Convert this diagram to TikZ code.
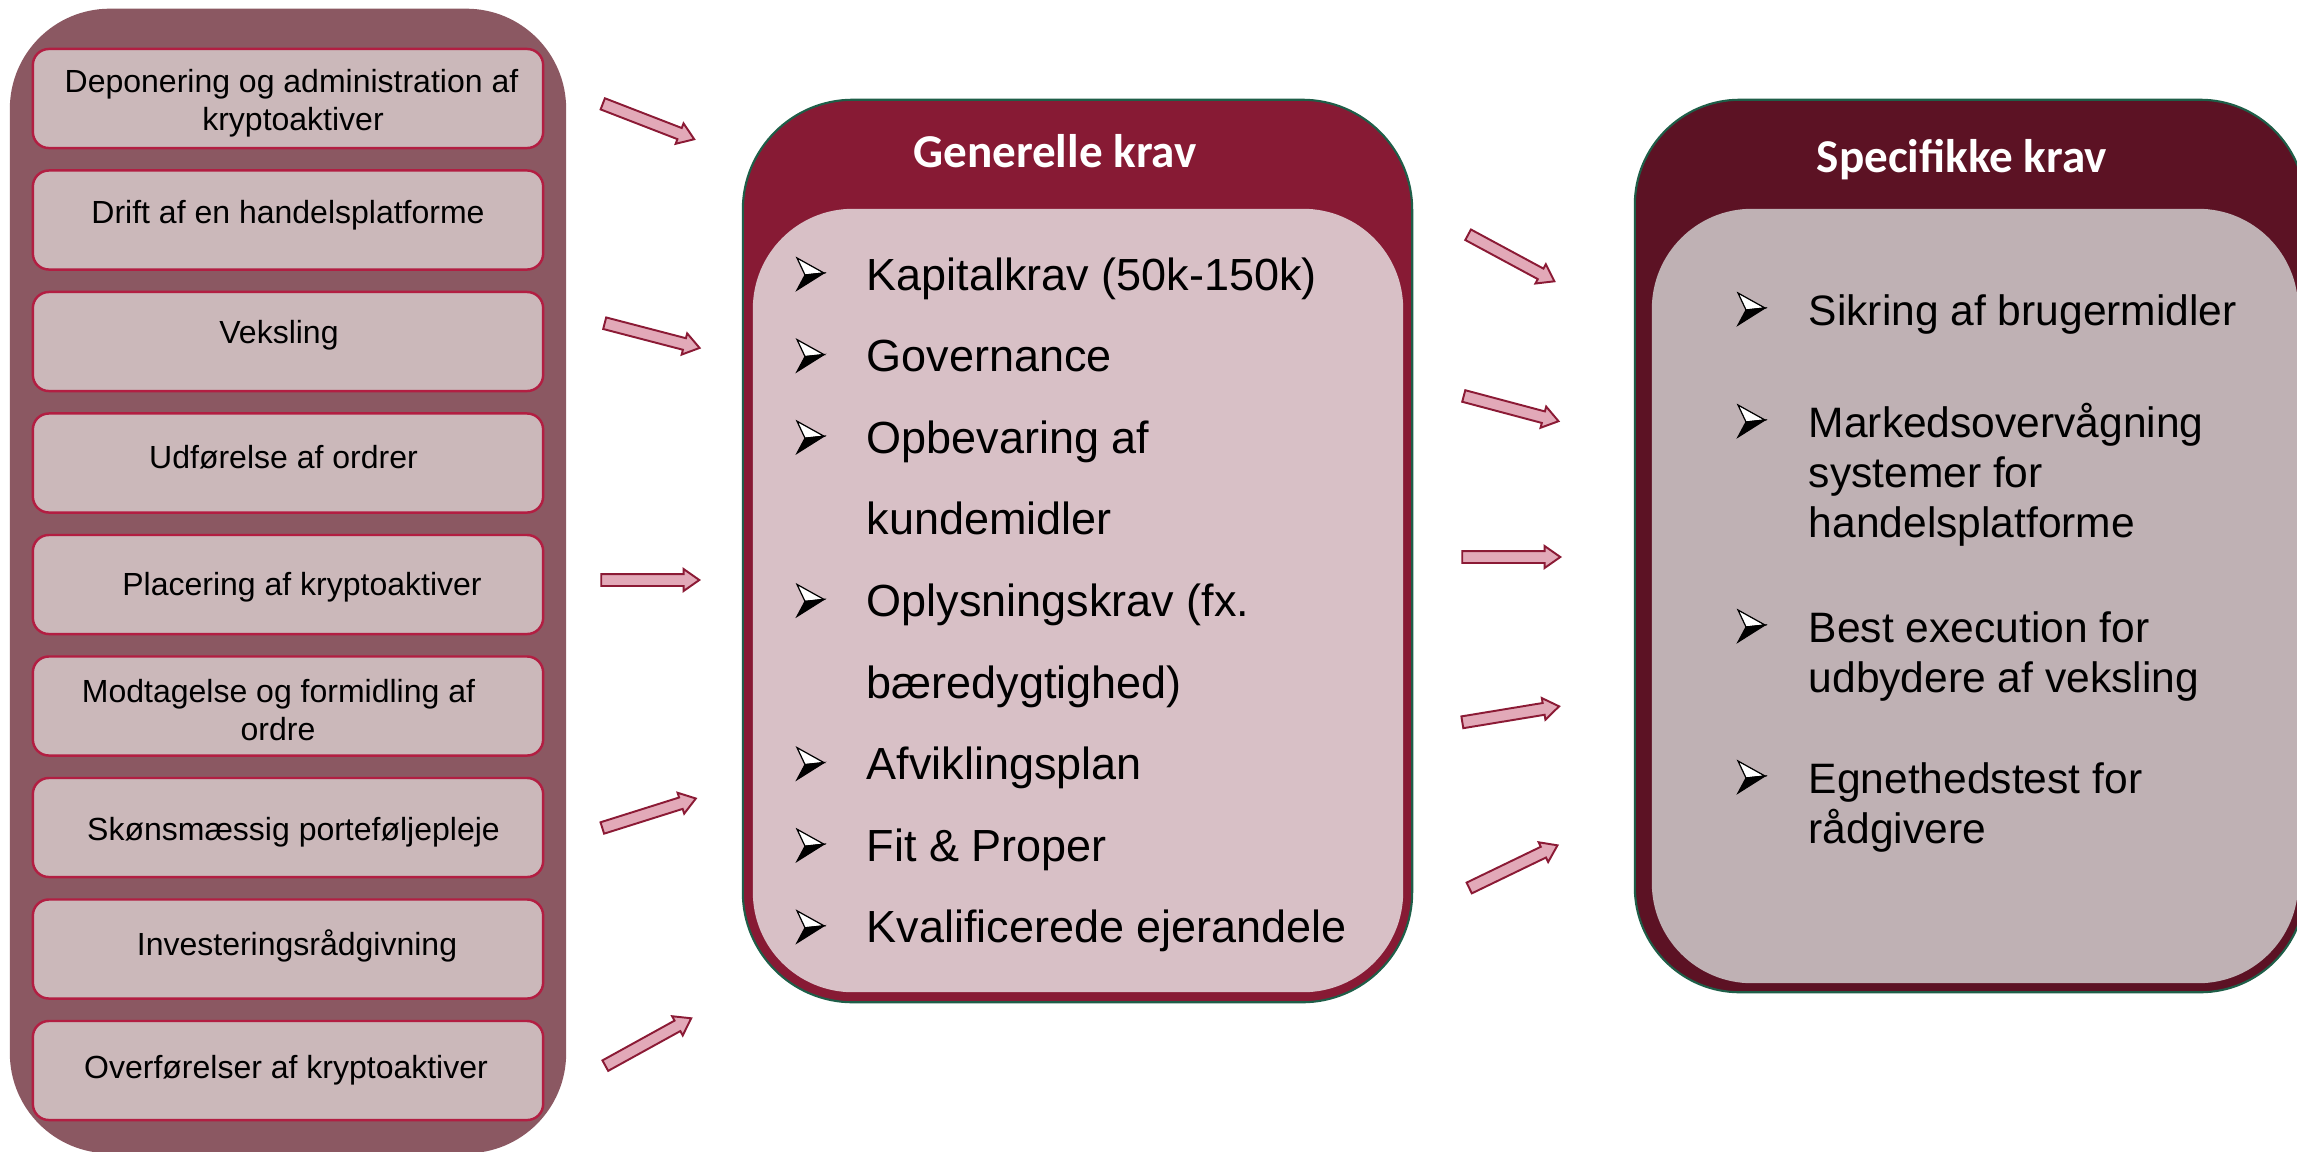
\documentclass[tikz,border=0pt]{standalone}
\usepackage{fontspec}
\setmainfont{Liberation Sans}
\newfontfamily\titlefont{Carlito}
\usetikzlibrary{shapes.arrows}

\definecolor{leftbg}{HTML}{8B5862}
\definecolor{itemfill}{HTML}{CBB8BA}
\definecolor{itemline}{HTML}{B21E42}
\definecolor{genouter}{HTML}{871A34}
\definecolor{geninner}{HTML}{D8C0C6}
\definecolor{specouter}{HTML}{5C1224}
\definecolor{specinner}{HTML}{BFB1B4}
\definecolor{panelline}{HTML}{1E5E48}
\definecolor{arrowfill}{HTML}{E2A9B8}
\definecolor{arrowline}{HTML}{8B1A35}

\tikzset{arrowbullet/.pic={
  \filldraw[fill=white, draw=black, line width=0.35pt] (0,-32) -- (27,-17) -- (8,-15) -- cycle;
  \filldraw[fill=black, draw=black, line width=0.35pt] (8,-15) -- (27,-17) -- (0,0) -- cycle;
}}

\begin{document}
\begin{tikzpicture}[x=0.01cm, y=-0.01cm]
\tikzstyle{panel}=[rectangle, inner sep=0, draw=panelline, line width=0.6pt]
\tikzstyle{item}=[rectangle, inner sep=0, rounded corners=0.16cm, fill=itemfill, draw=itemline, line width=0.7pt, minimum width=5.1cm, minimum height=0.99cm]
\tikzstyle{itemtext}=[inner sep=0, anchor=base, font=\fontsize{9.1}{10.8}\selectfont]
\tikzstyle{title}=[inner sep=0, anchor=base, text=white, font=\titlefont\bfseries\fontsize{13.4}{16}\selectfont]
\tikzstyle{gentext}=[inner sep=0, anchor=base west, font=\fontsize{12.8}{15}\selectfont]
\tikzstyle{spectext}=[inner sep=0, anchor=base west, font=\fontsize{12.1}{14.2}\selectfont]
\tikzstyle{bigarrow}=[single arrow, draw=arrowline, fill=arrowfill, line width=0.55pt, inner xsep=0, inner ysep=0.05cm, text height=0pt, text depth=0pt, minimum height=0.98cm, single arrow head extend=0.05cm, single arrow tip angle=70, sloped]
  \fill[white, use as bounding box] (0,0) rectangle (2297,1151);

  % services
  \node[rectangle, inner sep=0, fill=leftbg, rounded corners=1cm, minimum width=5.56cm, minimum height=11.44cm] (services) at (288,581) {};
  \node[item] (b1) at (288,98.5) {};
  \node[item] (b2) at (288,220) {};
  \node[item] (b3) at (288,341.5) {};
  \node[item] (b4) at (288,463) {};
  \node[item] (b5) at (288,584.5) {};
  \node[item] (b6) at (288,706) {};
  \node[item] (b7) at (288,827.5) {};
  \node[item] (b8) at (288,949) {};
  \node[item] (b9) at (288,1070.5) {};
  \node[itemtext] (l1a) at (291.5,92) {Deponering og administration af};
  \node[itemtext] (l1b) at (293,130) {kryptoaktiver};
  \node[itemtext] (l2) at (288,223) {Drift af en handelsplatforme};
  \node[itemtext] (l3) at (279,343) {Veksling};
  \node[itemtext] (l4) at (283.5,468) {Udførelse af ordrer};
  \node[itemtext] (l5) at (302,595) {Placering af kryptoaktiver};
  \node[itemtext] (l6a) at (278.5,702) {Modtagelse og formidling af};
  \node[itemtext] (l6b) at (278,740) {ordre};
  \node[itemtext] (l7) at (293.5,840) {Skønsmæssig porteføljepleje};
  \node[itemtext] (l8) at (297,955) {Investeringsrådgivning};
  \node[itemtext] (l9) at (286,1078) {Overførelser af kryptoaktiver};

  % generelle krav
  \node[panel, fill=genouter, rounded corners=1.1cm, minimum width=6.69cm, minimum height=9.02cm] (gen) at (1077.5,551) {};
  \node[rectangle, inner sep=0, fill=geninner, rounded corners=1cm, minimum width=6.5cm, minimum height=7.83cm] (genbox) at (1078,600.5) {};
  \node[title] (gentitle) at (1055,167) {Generelle krav};
  \pic at (797,290) {arrowbullet};
  \pic at (797,371.6) {arrowbullet};
  \pic at (797,453.2) {arrowbullet};
  \pic at (797,616.4) {arrowbullet};
  \pic at (797,779.6) {arrowbullet};
  \pic at (797,861.2) {arrowbullet};
  \pic at (797,942.8) {arrowbullet};
  \node[gentext] (g1) at (866,290) {Kapitalkrav (50k-150k)};
  \node[gentext] (g2) at (866,371.6) {Governance};
  \node[gentext] (g3a) at (866,453.2) {Opbevaring af};
  \node[gentext] (g3b) at (866,534.8) {kundemidler};
  \node[gentext] (g4a) at (866,616.4) {Oplysningskrav (fx.};
  \node[gentext] (g4b) at (866,698) {bæredygtighed)};
  \node[gentext] (g5) at (866,779.6) {Afviklingsplan};
  \node[gentext] (g6) at (866,861.2) {Fit \& Proper};
  \node[gentext] (g7) at (866,942.8) {Kvalificerede ejerandele};

  % specifikke krav
  \node[panel, fill=specouter, rounded corners=1.05cm, minimum width=6.7cm, minimum height=8.92cm] (spec) at (1970,546) {};
  \node[rectangle, inner sep=0, fill=specinner, rounded corners=1cm, minimum width=6.46cm, minimum height=7.74cm] (specbox) at (1975,596) {};
  \node[title] (spectitle) at (1962,172) {Specifikke krav};
  \pic at (1738,325) {arrowbullet};
  \pic at (1738,437) {arrowbullet};
  \pic at (1738,642) {arrowbullet};
  \pic at (1738,793) {arrowbullet};
  \node[spectext] (r1) at (1808,325) {Sikring af brugermidler};
  \node[spectext] (r2a) at (1808,437) {Markedsovervågning};
  \node[spectext] (r2b) at (1808,487) {systemer for};
  \node[spectext] (r2c) at (1808,537) {handelsplatforme};
  \node[spectext] (r3a) at (1808,642) {Best execution for};
  \node[spectext] (r3b) at (1808,692) {udbydere af veksling};
  \node[spectext] (r4a) at (1808,793) {Egnethedstest for};
  \node[spectext] (r4b) at (1808,843) {rådgivere};

  % arrows
  \coordinate (a1s) at (598,102);  \coordinate (a1e) at (691,138);
  \coordinate (a2s) at (600,322);  \coordinate (a2e) at (696,347);
  \coordinate (a3s) at (598,580);  \coordinate (a3e) at (694,580);
  \coordinate (a4s) at (599,829);  \coordinate (a4e) at (691,800);
  \coordinate (a5s) at (601,1068); \coordinate (a5e) at (688,1020);
  \coordinate (c1s) at (1463,232); \coordinate (c1e) at (1552,280);
  \coordinate (c2s) at (1460,395); \coordinate (c2e) at (1554,420);
  \coordinate (c3s) at (1457,557); \coordinate (c3e) at (1557,557);
  \coordinate (c4s) at (1458,723); \coordinate (c4e) at (1555,707);
  \coordinate (c5s) at (1465,890); \coordinate (c5e) at (1554,847);
  \path (a1s) -- node[bigarrow] {} (a1e);
  \path (a2s) -- node[bigarrow] {} (a2e);
  \path (a3s) -- node[bigarrow] {} (a3e);
  \path (a4s) -- node[bigarrow] {} (a4e);
  \path (a5s) -- node[bigarrow] {} (a5e);
  \path (c1s) -- node[bigarrow] {} (c1e);
  \path (c2s) -- node[bigarrow] {} (c2e);
  \path (c3s) -- node[bigarrow] {} (c3e);
  \path (c4s) -- node[bigarrow] {} (c4e);
  \path (c5s) -- node[bigarrow] {} (c5e);
\end{tikzpicture}
\end{document}
